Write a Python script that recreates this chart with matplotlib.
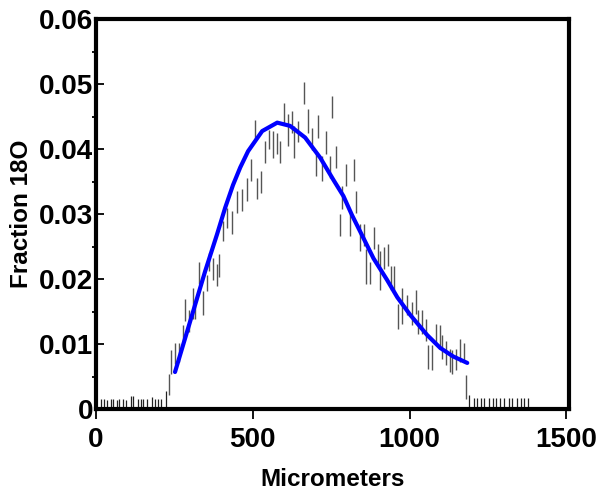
import numpy as np
import matplotlib
matplotlib.use("Agg")
import matplotlib.pyplot as plt
from matplotlib.ticker import MultipleLocator

plt.rcParams['font.family'] = ['Liberation Sans', 'DejaVu Sans']
plt.rcParams['font.weight'] = 'bold'

# error-bar ranges (micrometers, low, high)
bar_x = [233, 239, 252, 265, 278, 284, 297, 310, 316, 329, 341, 354, 361, 373, 386,
         393, 405, 418, 434, 450, 466, 482, 495, 507, 514, 527, 539, 552, 565, 578,
         587, 600, 613, 626, 632, 645, 664, 677, 689, 702, 709, 721, 734, 747, 753,
         766, 779, 785, 798, 811, 823, 830, 843, 855, 862, 874, 887, 900, 906, 919,
         932, 941, 951, 964, 977, 993, 1008, 1021, 1028, 1040, 1053, 1060, 1072, 1085,
         1098, 1104, 1117, 1130, 1136, 1149, 1162, 1174, 1181]
bar_lo = [0.0022, 0.0054, 0.0070, 0.0073, 0.0099, 0.0135, 0.0119, 0.0139, 0.0139, 0.0192,
          0.0145, 0.0181, 0.0212, 0.0199, 0.0189, 0.0204, 0.0258, 0.0278, 0.0269, 0.0302,
          0.0305, 0.0320, 0.0351, 0.0413, 0.0323, 0.0332, 0.0379, 0.0400, 0.0387, 0.0393,
          0.0379, 0.0439, 0.0405, 0.0425, 0.0387, 0.0411, 0.0469, 0.0425, 0.0399, 0.0359,
          0.0418, 0.0351, 0.0393, 0.0356, 0.0448, 0.0371, 0.0266, 0.0308, 0.0343, 0.0266,
          0.0351, 0.0302, 0.0243, 0.0251, 0.0192, 0.0192, 0.0247, 0.0223, 0.0184, 0.0216,
          0.0220, 0.0184, 0.0184, 0.0124, 0.0131, 0.0145, 0.0130, 0.0147, 0.0116, 0.0116,
          0.0104, 0.0062, 0.0060, 0.0099, 0.0093, 0.0077, 0.0068, 0.0057, 0.0054, 0.0060,
          0.0073, 0.0073, 0.0015]
bar_hi = [0.0054, 0.0091, 0.0101, 0.0102, 0.0130, 0.0169, 0.0153, 0.0187, 0.0170, 0.0226,
          0.0181, 0.0207, 0.0241, 0.0232, 0.0223, 0.0238, 0.0289, 0.0309, 0.0305, 0.0336,
          0.0339, 0.0356, 0.0385, 0.0445, 0.0356, 0.0366, 0.0413, 0.0430, 0.0428, 0.0425,
          0.0413, 0.0472, 0.0455, 0.0459, 0.0436, 0.0444, 0.0503, 0.0462, 0.0433, 0.0394,
          0.0452, 0.0390, 0.0428, 0.0390, 0.0482, 0.0405, 0.0300, 0.0343, 0.0377, 0.0300,
          0.0385, 0.0336, 0.0285, 0.0285, 0.0246, 0.0227, 0.0281, 0.0254, 0.0243, 0.0250,
          0.0254, 0.0220, 0.0220, 0.0161, 0.0186, 0.0176, 0.0165, 0.0184, 0.0153, 0.0153,
          0.0139, 0.0099, 0.0099, 0.0131, 0.0130, 0.0114, 0.0104, 0.0093, 0.0091, 0.0093,
          0.0108, 0.0101, 0.0053]

# background points near zero
base_x = [16, 27, 36, 47, 55, 66, 74, 85, 95, 113, 119, 133, 143, 151, 162, 179, 189,
          198, 208, 223,
          1191, 1204, 1215, 1227, 1238, 1252, 1265, 1276, 1289, 1302, 1316, 1328, 1343,
          1355, 1366, 1378]
base_hi = [0.0015, 0.0015, 0.0014, 0.0015, 0.0015, 0.0014, 0.0015, 0.0015, 0.0014, 0.0020,
           0.0020, 0.0015, 0.0016, 0.0015, 0.0015, 0.0019, 0.0016, 0.0015, 0.0015, 0.0028,
           0.0022, 0.0017, 0.0017, 0.0017, 0.0017, 0.0017, 0.0017, 0.0017, 0.0017, 0.0017,
           0.0017, 0.0017, 0.0017, 0.0017, 0.0017, 0.0017]

# fitted curve
fit_x = [252, 348, 386, 412, 437, 460, 485, 530, 578, 619, 667, 715, 757, 789, 816,
         848, 885, 928, 961, 1002, 1056, 1098, 1139, 1184]
fit_y = [0.0057, 0.0212, 0.0269, 0.0310, 0.0345, 0.0372, 0.0397, 0.0428, 0.0441, 0.0436,
         0.0418, 0.0387, 0.0353, 0.0328, 0.0299, 0.0268, 0.0232, 0.0199, 0.0172, 0.0145,
         0.0114, 0.0094, 0.0081, 0.0071]

fig = plt.figure(figsize=(6.13, 4.97), dpi=100)
ax = fig.add_axes([0.1566, 0.177, 0.7724, 0.784])

ax.vlines(base_x, 0, base_hi, color='#222222', lw=0.9)
ax.vlines(bar_x, bar_lo, bar_hi, color='#555555', lw=1.0)
ax.plot(fit_x, fit_y, color='#0000ff', lw=3.0, solid_capstyle='round',
        solid_joinstyle='round')

ax.set_xlim(0, 1510)
ax.set_ylim(0, 0.06)
ax.set_xticks([0, 500, 1000, 1500])
ax.set_xticklabels(['0', '500', '1000', '1500'])
ax.set_yticks([0, 0.01, 0.02, 0.03, 0.04, 0.05, 0.06])
ax.set_yticklabels(['0', '0.01', '0.02', '0.03', '0.04', '0.05', '0.06'])
ax.yaxis.set_minor_locator(MultipleLocator(0.005))

for s in ax.spines.values():
    s.set_linewidth(3)
ax.tick_params(axis='x', which='major', direction='out', length=7, width=1.3,
               labelsize=20, pad=6)
ax.tick_params(axis='y', which='major', direction='in', length=6, width=1.3,
               labelsize=20, pad=2)
ax.tick_params(axis='y', which='minor', direction='out', length=3, width=1.3)
for lab in ax.get_xticklabels() + ax.get_yticklabels():
    lab.set_fontweight('bold')

ax.set_xlabel('Micrometers', fontsize=17.5, fontweight='bold', labelpad=11)
ax.set_ylabel('Fraction 18O', fontsize=17.5, fontweight='bold', labelpad=4)

fig.savefig('out.png', dpi=100)
